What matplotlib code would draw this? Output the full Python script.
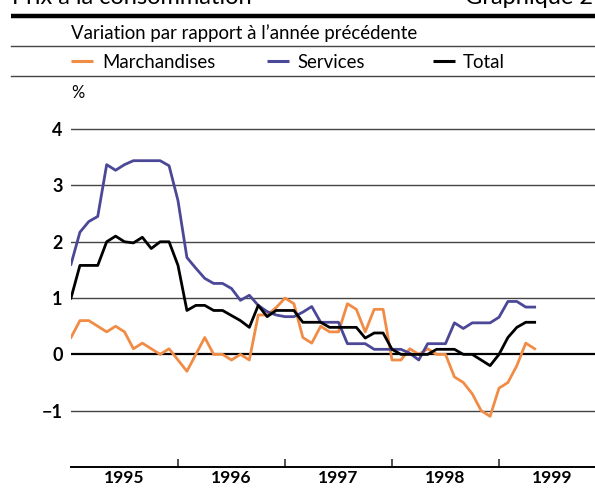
import matplotlib
matplotlib.use("Agg")
import matplotlib.pyplot as plt
import numpy as np
from matplotlib import font_manager
from matplotlib.lines import Line2D

# monthly data, Jan 1995 .. May 1999
merch = [0.3, 0.6, 0.6, 0.5, 0.4, 0.5, 0.4, 0.1, 0.2, 0.1, 0.0, 0.1,
         -0.1, -0.3, 0.0, 0.3, 0.0, 0.0, -0.1, 0.0, -0.1, 0.7, 0.7, 0.83,
         1.0, 0.9, 0.3, 0.2, 0.5, 0.4, 0.4, 0.9, 0.8, 0.4, 0.8, 0.8,
         -0.1, -0.1, 0.1, 0.0, 0.1, 0.0, 0.0, -0.4, -0.5, -0.7, -1.0, -1.1,
         -0.6, -0.5, -0.2, 0.2, 0.1]
services = [1.6, 2.17, 2.36, 2.45, 3.37, 3.27, 3.37, 3.44, 3.44, 3.44, 3.44, 3.35,
            2.73, 1.72, 1.53, 1.35, 1.26, 1.26, 1.17, 0.96, 1.05, 0.87, 0.76, 0.7,
            0.67, 0.67, 0.75, 0.85, 0.57, 0.57, 0.57, 0.19, 0.19, 0.19, 0.09, 0.09,
            0.09, 0.09, 0.02, -0.1, 0.19, 0.19, 0.19, 0.56, 0.46, 0.56, 0.56, 0.56,
            0.66, 0.94, 0.94, 0.84, 0.84]
total = [1.0, 1.58, 1.58, 1.58, 2.0, 2.1, 2.0, 1.98, 2.08, 1.88, 2.0, 2.0,
         1.58, 0.78, 0.87, 0.87, 0.78, 0.78, 0.69, 0.6, 0.48, 0.87, 0.67, 0.78,
         0.78, 0.78, 0.57, 0.57, 0.57, 0.48, 0.48, 0.48, 0.48, 0.29, 0.38, 0.38,
         0.09, 0.0, 0.0, 0.0, 0.0, 0.09, 0.09, 0.09, 0.0, 0.0, -0.1, -0.2,
         0.0, 0.3, 0.48, 0.57, 0.57]
years = [1995, 1996, 1997, 1998, 1999]
yticks = [-1, 0, 1, 2, 3, 4]
labels = ["Marchandises", "Services", "Total"]

C_ORANGE = "#f08c46"
C_BLUE = "#4b4897"
C_BLACK = "#000000"

names = {f.name for f in font_manager.fontManager.ttflist}
if "Liberation Sans Narrow" in names:
    TXT, TSIZE = "Liberation Sans Narrow", 14
else:
    TXT, TSIZE = "Lato", 13.4
NUM = "Lato"

W, H = 595, 488
fig = plt.figure(figsize=(W / 100, H / 100), dpi=100)


def fx(px):
    return px / W


def fy(py):
    return 1 - py / H


# header (cut off at the top, like the source page)
fig.text(fx(12), fy(4), "Prix à la consommation", family=TXT, fontsize=17,
         va="baseline", ha="left")
fig.text(fx(465), fy(4), "Graphique 2", family=TXT, fontsize=17,
         va="baseline", ha="left")
fig.add_artist(Line2D([fx(11), 1], [fy(15.5), fy(15.5)], transform=fig.transFigure,
                      color="black", lw=3.2, solid_capstyle="butt"))
fig.text(fx(71), fy(39), "Variation par rapport à l\u2019année précédente",
         family=TXT, fontsize=TSIZE, va="baseline", ha="left")
for yy in (46, 76):
    fig.add_artist(Line2D([fx(11), 1], [fy(yy), fy(yy)], transform=fig.transFigure,
                          color="#444444", lw=1.0))

# legend
leg = [(71, 93, 102, C_ORANGE), (267, 289, 297, C_BLUE), (433, 455, 463, C_BLACK)]
for (x0, x1, xt, c), lab in zip(leg, labels):
    fig.add_artist(Line2D([fx(x0), fx(x1)], [fy(61), fy(61)], transform=fig.transFigure,
                          color=c, lw=2.2, solid_capstyle="butt"))
    fig.text(fx(xt), fy(68), lab, family=TXT, fontsize=TSIZE, va="baseline", ha="left")

fig.text(fx(71), fy(98), "%", family=TXT, fontsize=TSIZE - 1.5, va="baseline", ha="left")

ax = fig.add_axes([fx(71), 21 / H, 1 - fx(71), 366 / H])
x = 1995 + np.arange(len(merch)) / 12

for v in yticks:
    if v == 0:
        continue
    ax.axhline(v, color="#444444", lw=1.0, zorder=1)
ax.axhline(0, color="black", lw=1.6, zorder=1)

ax.plot(x, merch, color=C_ORANGE, lw=2.0, zorder=3)
ax.plot(x, services, color=C_BLUE, lw=2.0, zorder=3)
ax.plot(x, total, color=C_BLACK, lw=2.0, zorder=4)

ax.set_xlim(1995, 1995 + 524 / 107)
ax.set_ylim(-2, 4.5)

for s in ("top", "right", "left"):
    ax.spines[s].set_visible(False)
ax.spines["bottom"].set_linewidth(1.4)

ax.set_yticks(yticks)
ax.set_yticklabels(["\u22121" if v < 0 else str(v) for v in yticks])
ax.tick_params(axis="y", length=0, pad=6)

ax.set_xticks(years[1:])
ax.set_xticklabels([])
ax.set_xticks([y + 0.5 for y in years], minor=True)
ax.set_xticklabels([str(y) for y in years], minor=True)
ax.tick_params(axis="x", which="major", direction="in", length=5.5, width=1.2,
               color="#333333")
ax.tick_params(axis="x", which="minor", length=0, pad=2.5)

for lab in ax.get_yticklabels():
    lab.set_family(NUM)
    lab.set_fontweight("bold")
    lab.set_fontsize(13)
for lab in ax.get_xticklabels(minor=True):
    lab.set_family(NUM)
    lab.set_fontweight("bold")
    lab.set_fontsize(12.5)

fig.savefig("out.png", dpi=100)
